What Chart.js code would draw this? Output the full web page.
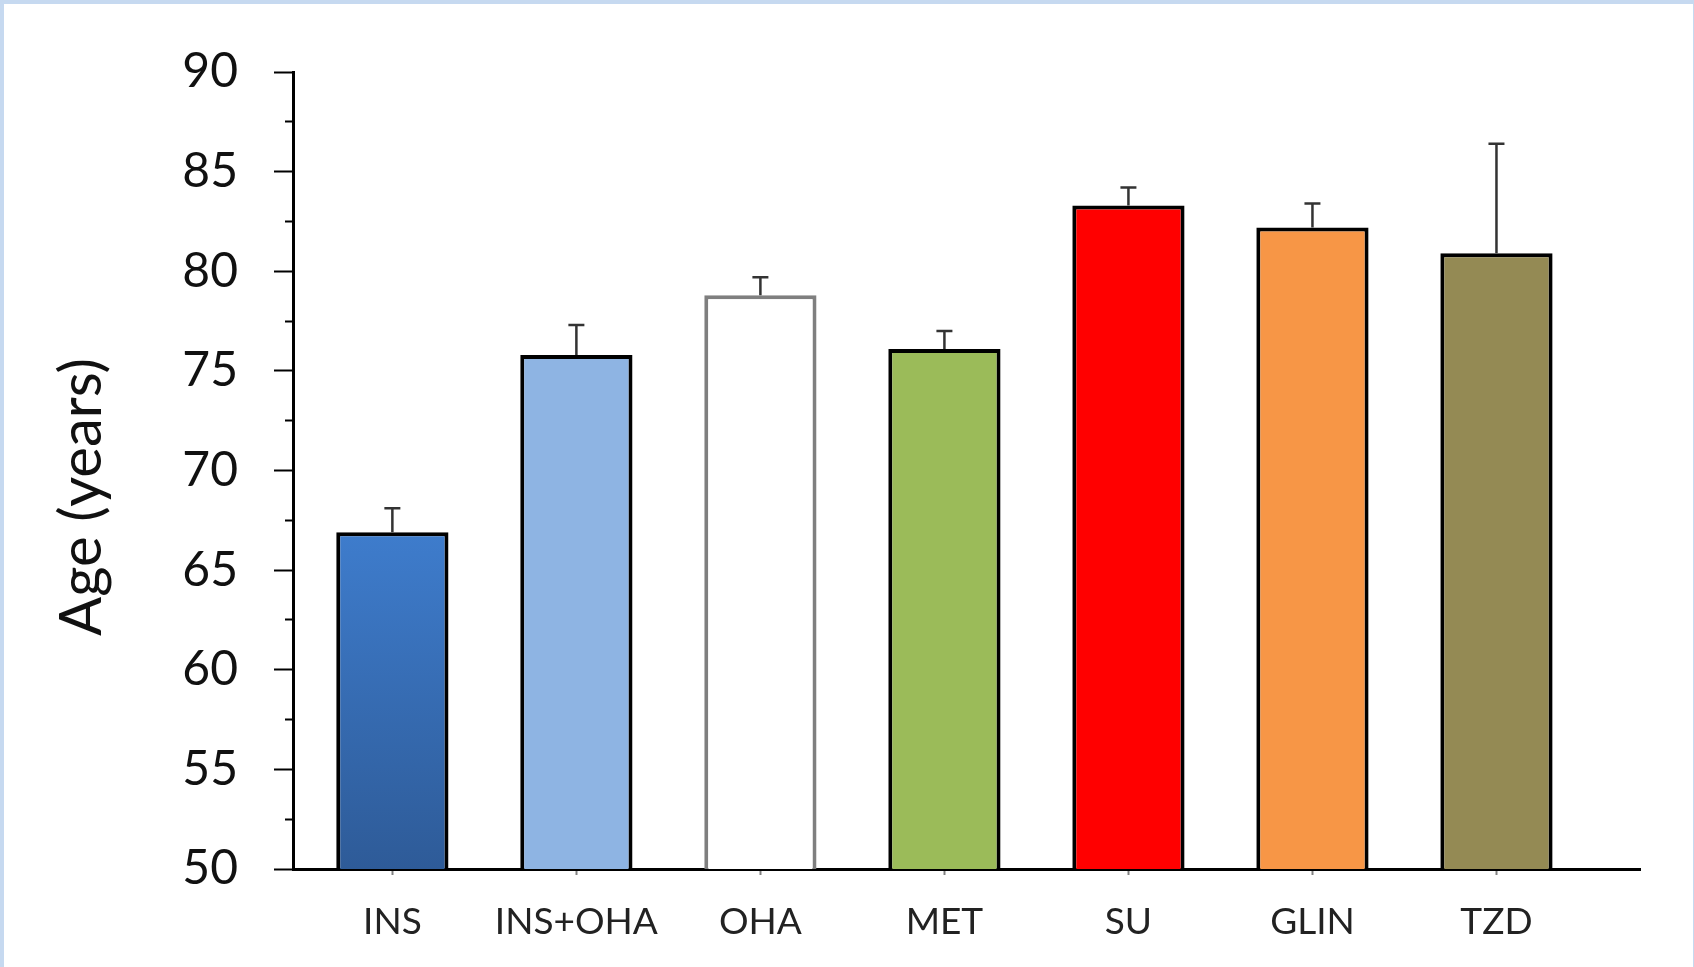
<!DOCTYPE html>
<html>
<head>
<meta charset="utf-8">
<script src="https://cdn.jsdelivr.net/npm/chart.js@4"></script>
<style>
  html, body { margin: 0; padding: 0; background: #c6d9f0; }
  #wrap { position: absolute; left: 4px; top: 4px; width: 1689px; height: 963px; background: #fff; }
</style>
</head>
<body>
<div id="wrap"><canvas id="AgeChart"></canvas></div>
<script>
// groups and mean age (+ error, drawn upward only)
var groups = ['INS', 'INS+OHA', 'OHA', 'MET', 'SU', 'GLIN', 'TZD'];
var meanAge = [66.9, 75.8, 78.8, 76.1, 83.3, 82.2, 80.9];
var ageError = [1.2, 1.5, 0.9, 0.9, 0.9, 1.2, 5.5];
var yTicks = [50, 55, 60, 65, 70, 75, 80, 85, 90];
var yTitle = 'Age (years)';

var fillColors = ['#3a74c2', '#8eb4e3', '#ffffff', '#9bbb59', '#ff0000', '#f79646', '#948a54'];
var lineColors = ['#000', '#000', '#7f7f7f', '#000', '#000', '#000', '#000'];

var errorBars = {
    id: 'errorBars',
    afterDatasetsDraw: function (chart) {
        var ctx = chart.ctx;
        var y = chart.scales.y;
        var meta = chart.getDatasetMeta(0);
        ctx.save();
        ctx.strokeStyle = '#333';
        ctx.lineWidth = 2.5;
        meta.data.forEach(function (bar, i) {
            var top = y.getPixelForValue(meanAge[i] + ageError[i]);
            ctx.beginPath();
            ctx.moveTo(bar.x, bar.y);
            ctx.lineTo(bar.x, top);
            ctx.moveTo(bar.x - 8, top);
            ctx.lineTo(bar.x + 8, top);
            ctx.stroke();
        });
        ctx.restore();
    }
};

// y title, placed a bit below the axis middle like the original
var axisTitle = {
    id: 'axisTitle',
    afterDraw: function (chart) {
        var ctx = chart.ctx;
        ctx.save();
        ctx.translate(78, 493);
        ctx.rotate(-Math.PI / 2);
        ctx.font = '58px Lato';
        ctx.fillStyle = '#111';
        ctx.textAlign = 'center';
        ctx.textBaseline = 'middle';
        ctx.fillText(yTitle, 0, 0);
        ctx.restore();
    }
};

var target = document.getElementById('AgeChart');
var g = target.getContext('2d').createLinearGradient(0, 530, 0, 865);
g.addColorStop(0, '#3e7ccc');
g.addColorStop(1, '#2e5b98');
fillColors[0] = g;

new Chart(target, {
    type: 'bar',
    data: {
        datasets: [{
            data: groups.map(function (name, i) { return { x: i + 1, y: meanAge[i] }; }),
            backgroundColor: fillColors,
            borderColor: lineColors,
            borderWidth: 4,
            borderSkipped: 'bottom',
            barPercentage: 0.61,
            categoryPercentage: 1
        }]
    },
    options: {
        responsive: true,
        maintainAspectRatio: false,
        animation: false,
        layout: { padding: { left: 47, top: 68, right: 53, bottom: 0 } },
        plugins: { legend: { display: false }, tooltip: { enabled: false } },
        scales: {
            x: {
                type: 'linear',
                offset: false,
                min: 0.46,
                max: 7.78,
                afterBuildTicks: function (s) {
                    s.ticks = groups.map(function (name, i) { return { value: i + 1 }; });
                },
                afterFit: function (s) { s.height = 98; },
                border: { color: '#000', width: 3 },
                grid: { offset: false, drawOnChartArea: false, tickLength: 6, tickColor: '#808080', tickWidth: 2 },
                ticks: {
                    autoSkip: false,
                    maxRotation: 0,
                    padding: 25,
                    color: '#222',
                    font: { family: 'Lato', size: 37 },
                    callback: function (v) { return groups[v - 1]; }
                }
            },
            y: {
                min: 50,
                max: 90,
                afterBuildTicks: function (s) {
                    var t = [];
                    yTicks.forEach(function (v, i) {
                        t.push({ value: v });
                        if (i < yTicks.length - 1) t.push({ value: v + 2.5 });
                    });
                    s.ticks = t;
                },
                afterFit: function (s) { s.width = 242; },
                border: { color: '#000', width: 3 },
                grid: {
                    drawOnChartArea: false,
                    tickLength: 19,
                    tickColor: '#000',
                    tickWidth: 2,
                    tickBorderDash: function (c) { return c.tick && c.tick.value % 5 ? [0, 11, 8, 100] : []; }
                },
                ticks: {
                    autoSkip: false,
                    padding: 36,
                    color: '#111',
                    font: { family: 'Lato', size: 48 },
                    callback: function (v) { return v % 5 === 0 ? v : ''; }
                }
            }
        }
    },
    plugins: [errorBars, axisTitle]
});
</script>
</body>
</html>
